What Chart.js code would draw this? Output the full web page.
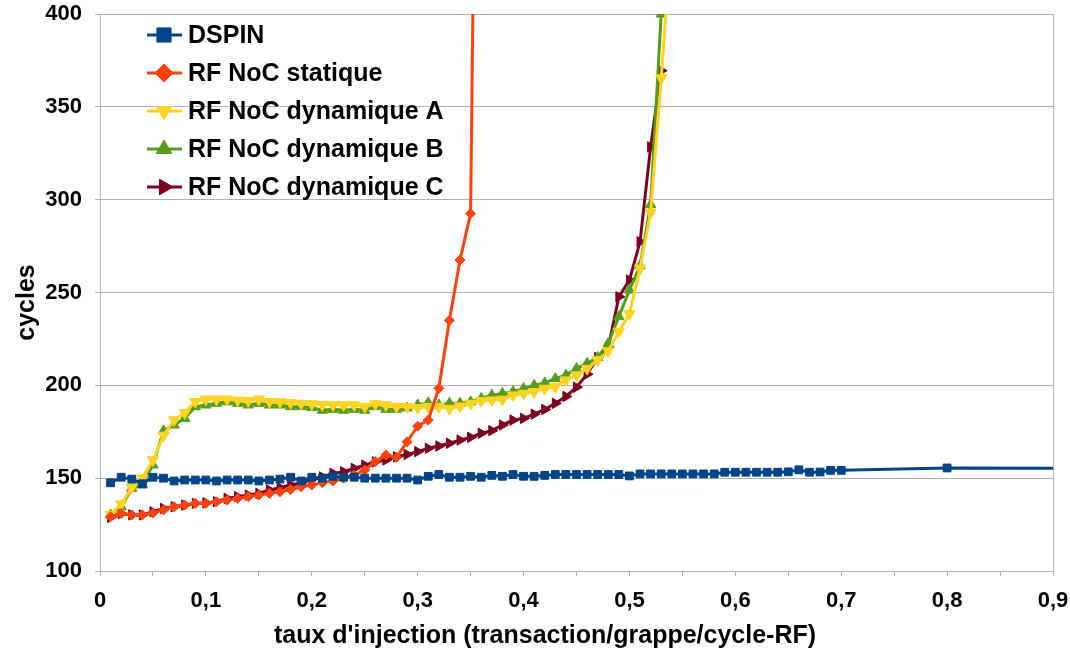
<!DOCTYPE html>
<html lang="fr">
<head>
<meta charset="utf-8">
<title>Latence en fonction du taux d'injection</title>
<script src="https://cdn.jsdelivr.net/npm/chart.js@4/dist/chart.umd.min.js"></script>
<style>
  html, body { margin: 0; padding: 0; background: #fff; }
  #wrap { width: 1070px; height: 652px; }
</style>
</head>
<body>
<div id="wrap"><canvas id="g-latence" width="1070" height="652"></canvas></div>
<script>
// =====================================================
// DONNEES
// =====================================================

const taux = [0.01, 0.02, 0.03, 0.04, 0.05, 0.06, 0.07, 0.08, 0.09, 0.10,
  0.11, 0.12, 0.13, 0.14, 0.15, 0.16, 0.17, 0.18, 0.19, 0.20,
  0.21, 0.22, 0.23, 0.24, 0.25, 0.26, 0.27, 0.28, 0.29, 0.30,
  0.31, 0.32, 0.33, 0.34, 0.35, 0.36, 0.37, 0.38, 0.39, 0.40,
  0.41, 0.42, 0.43, 0.44, 0.45, 0.46, 0.47, 0.48, 0.49, 0.50,
  0.51, 0.52, 0.53, 0.54];

const tauxDspin = [0.01, 0.02, 0.03, 0.04, 0.05, 0.06, 0.07, 0.08, 0.09, 0.10,
  0.11, 0.12, 0.13, 0.14, 0.15, 0.16, 0.17, 0.18, 0.19, 0.20,
  0.21, 0.22, 0.23, 0.24, 0.25, 0.26, 0.27, 0.28, 0.29, 0.30,
  0.31, 0.32, 0.33, 0.34, 0.35, 0.36, 0.37, 0.38, 0.39, 0.40,
  0.41, 0.42, 0.43, 0.44, 0.45, 0.46, 0.47, 0.48, 0.49, 0.50,
  0.51, 0.52, 0.53, 0.54, 0.55, 0.56, 0.57, 0.58, 0.59, 0.60,
  0.61, 0.62, 0.63, 0.64, 0.65, 0.66, 0.67, 0.68, 0.69, 0.70,
  0.80, 1.00];

const dspin = [147.5, 150.5, 149.5, 147, 150.5, 150, 148.5, 149, 149, 149,
  148.5, 149, 149, 149, 148.5, 149, 149.5, 150.5, 148.5, 150.5,
  150, 151, 150.5, 150.5, 150, 150, 150, 150, 150, 149,
  151, 152, 150.5, 150.5, 151, 150.5, 151.5, 151, 152, 151,
  151, 151.5, 152, 152, 152, 152, 152, 152, 152, 151.2,
  152.3, 152.3, 152.3, 152.3, 152.3, 152.3, 152.3, 152.3, 153.2, 153.2,
  153.2, 153.2, 153.2, 153.2, 153.4, 154.5, 153.2, 153.3, 154.2, 154.2,
  155.5, 155.3];

const statique = [129.2, 131, 130.2, 130.2, 131.3, 132.9, 134.6, 135.5, 136.4, 136.4,
  137.3, 138.2, 139.1, 140, 140.9, 141.8, 142.7, 143.9, 145.4, 146.3,
  147.6, 148.5, 150, 151.7, 154.4, 158.9, 162.5, 161.2, 169.6, 178,
  181.3, 198.4, 235, 267.5, 292.5, 800];

const dynA = [130.5, 136, 145, 150, 159.8, 173, 181.3, 185.2, 191.2, 192.5,
  192.5, 192.5, 191.9, 191.6, 192.5, 191.2, 191, 190.6, 190.2, 190,
  189.5, 189.4, 189.4, 189.4, 188.5, 190, 189.4, 188.5, 188.5, 187.9,
  188.5, 188.5, 187.5, 188.8, 190.2, 191.7, 192, 192.4, 194.7, 195.6,
  196.5, 198.3, 199.2, 202.8, 205.5, 209, 213.6, 218.5, 229, 238.5,
  263, 293, 365.5, 445];

const dynB = [130.2, 134.6, 144.5, 146.3, 157.1, 175.5, 178.6, 182.2, 188.5, 189.4,
  190.3, 191.1, 190.3, 189.4, 190.3, 189.4, 189.4, 188.5, 188.5, 188.1,
  186.6, 187.1, 186.6, 187.1, 186.6, 188.5, 187.1, 187.1, 187.8, 189.4,
  190.6, 189.4, 190.3, 190.3, 191.1, 192.9, 194.7, 195.6, 196.5, 198.3,
  200, 201.3, 203.6, 205.5, 209, 211.8, 215, 222.6, 237, 251.3,
  264.4, 297.3, 400];

const dynC = [128.9, 131, 130.2, 130.2, 131.9, 133.7, 134.6, 135.5, 136.4, 136.7,
  137.3, 139.1, 140, 140.9, 141.8, 143.6, 144.9, 146.3, 147.6, 149.4,
  150.7, 152.6, 153.5, 155.3, 157, 158.8, 159.8, 161.5, 162.8, 164.3,
  166.1, 167.3, 168.8, 170.5, 172, 174.2, 175.6, 178.6, 181.3, 182.2,
  184.5, 187, 190.3, 194, 199, 206, 215, 220.4, 247.7, 256.7,
  277.3, 328.4, 369.5];

const xTickLabels = ["0", "0,1", "0,2", "0,3", "0,4", "0,5", "0,6", "0,7", "0,8", "0,9"];
const yTickLabels = ["100", "150", "200", "250", "300", "350", "400"];

const titreX = "taux d'injection (transaction/grappe/cycle-RF)";
const titreY = "cycles";

const POLICE = '"Liberation Sans", Arial, sans-serif';

// =====================================================
// GRAPHIQUE
// =====================================================

function points(xs, ys) {
  return ys.map((y, i) => ({ x: xs[i], y }));
}

function serie(label, xs, ys, color, style, rotation, radius) {
  return {
    label,
    data: points(xs, ys),
    borderColor: color,
    backgroundColor: color,
    borderWidth: 3,
    pointStyle: style,
    rotation,
    pointRadius: radius,
    pointBorderWidth: 1,
    pointBackgroundColor: color,
    pointBorderColor: color,
    tension: 0,
    clip: 0
  };
}

// legende dans la zone du graphique, en haut a gauche
const legendeInterne = {
  id: "legendeInterne",
  afterDraw(chart) {
    const ctx = chart.ctx;
    const x0 = chart.chartArea.left + 47;
    const y0 = chart.chartArea.top + 21;
    ctx.save();
    chart.data.datasets.forEach((ds, i) => {
      const y = y0 + i * 38;
      ctx.strokeStyle = ds.borderColor;
      ctx.lineWidth = 3;
      ctx.beginPath();
      ctx.moveTo(x0, y);
      ctx.lineTo(x0 + 35, y);
      ctx.stroke();
      ctx.fillStyle = ds.borderColor;
      ctx.lineWidth = 1;
      Chart.helpers.drawPoint(ctx, {
        pointStyle: ds.pointStyle,
        rotation: ds.rotation,
        radius: ds.pointStyle === "rect" ? 10 : 9,
        borderWidth: 1
      }, x0 + 17, y);
      ctx.fillStyle = "#000";
      ctx.font = "bold 25px " + POLICE;
      ctx.textBaseline = "middle";
      ctx.textAlign = "left";
      ctx.fillText(ds.label, x0 + 41, y + 1);
    });
    ctx.restore();
  }
};

// titres des axes
const titresAxes = {
  id: "titresAxes",
  afterDraw(chart) {
    const ctx = chart.ctx;
    const a = chart.chartArea;
    ctx.save();
    ctx.fillStyle = "#000";
    ctx.font = "bold 25px " + POLICE;
    ctx.textAlign = "center";
    ctx.textBaseline = "middle";
    ctx.fillText(titreX, chart.width / 2 + 10, 636);
    ctx.translate(27, (a.top + a.bottom) / 2 + 10);
    ctx.rotate(-Math.PI / 2);
    ctx.fillText(titreY, 0, 0);
    ctx.restore();
  }
};

document.addEventListener("DOMContentLoaded", () => {
  Chart.defaults.font.family = POLICE;
  Chart.defaults.color = "#000";

  new Chart(document.getElementById("g-latence"), {
    type: "line",
    data: {
      datasets: [
        serie("DSPIN", tauxDspin, dspin, "#004586", "rect", 0, 5.5),
        serie("RF NoC statique", taux, statique, "#ff420e", "rectRot", 0, 5),
        serie("RF NoC dynamique A", taux, dynA, "#ffd320", "triangle", 180, 6.5),
        serie("RF NoC dynamique B", taux, dynB, "#579d1c", "triangle", 0, 6),
        serie("RF NoC dynamique C", taux, dynC, "#7e0021", "triangle", 90, 6)
      ]
    },
    options: {
      responsive: false,
      animation: false,
      layout: { padding: { top: 14, right: 17, left: 0, bottom: 0 } },
      plugins: { legend: { display: false }, tooltip: { enabled: false } },
      scales: {
        x: {
          type: "linear",
          min: 0,
          max: 0.9,
          afterFit: s => {
            s.height = 81;
            s.paddingLeft = 0;
            s.paddingRight = 0;
          },
          border: { color: "#b3b3b3" },
          grid: {
            color: c => (c.index === 18 ? "#b3b3b3" : "rgba(0,0,0,0)"),
            tickColor: "#b3b3b3",
            tickLength: 5
          },
          ticks: {
            stepSize: 0.05,
            autoSkip: false,
            maxRotation: 0,
            padding: 12,
            font: { size: 22, weight: "bold" },
            callback: (v, i) => (i % 2 === 0 ? xTickLabels[i / 2] : "")
          }
        },
        y: {
          min: 100,
          max: 400,
          afterFit: s => {
            s.width = 100;
            s.paddingTop = 0;
            s.paddingBottom = 0;
          },
          border: { color: "#b3b3b3" },
          grid: { color: "#b3b3b3", tickLength: 5 },
          ticks: {
            stepSize: 50,
            padding: 13,
            font: { size: 22, weight: "bold" },
            callback: (v, i) => yTickLabels[i]
          }
        }
      }
    },
    plugins: [legendeInterne, titresAxes]
  });
});
</script>
</body>
</html>
